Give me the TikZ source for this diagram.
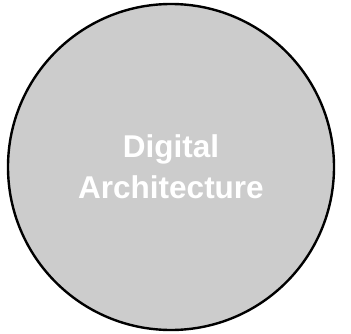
\documentclass[tikz,border=0pt]{standalone}
\usepackage{fontspec}
\setmainfont{Liberation Sans}
\usepackage{xcolor}
\definecolor{archgray}{HTML}{CCCCCC}

\begin{document}
\begin{tikzpicture}[x=1pt, y=1pt]
\useasboundingbox (0,0) rectangle (351,333);
\node [draw, line width=2.4pt, fill=archgray, shape=circle, minimum size=326, inner sep=0] (arch) at (171,166) {};
\node [text=white, align=center, font=\fontsize{31.5}{41}\selectfont\bfseries] (archtext) at (arch.center) {Digital\\Architecture};
\end{tikzpicture}
\end{document}
